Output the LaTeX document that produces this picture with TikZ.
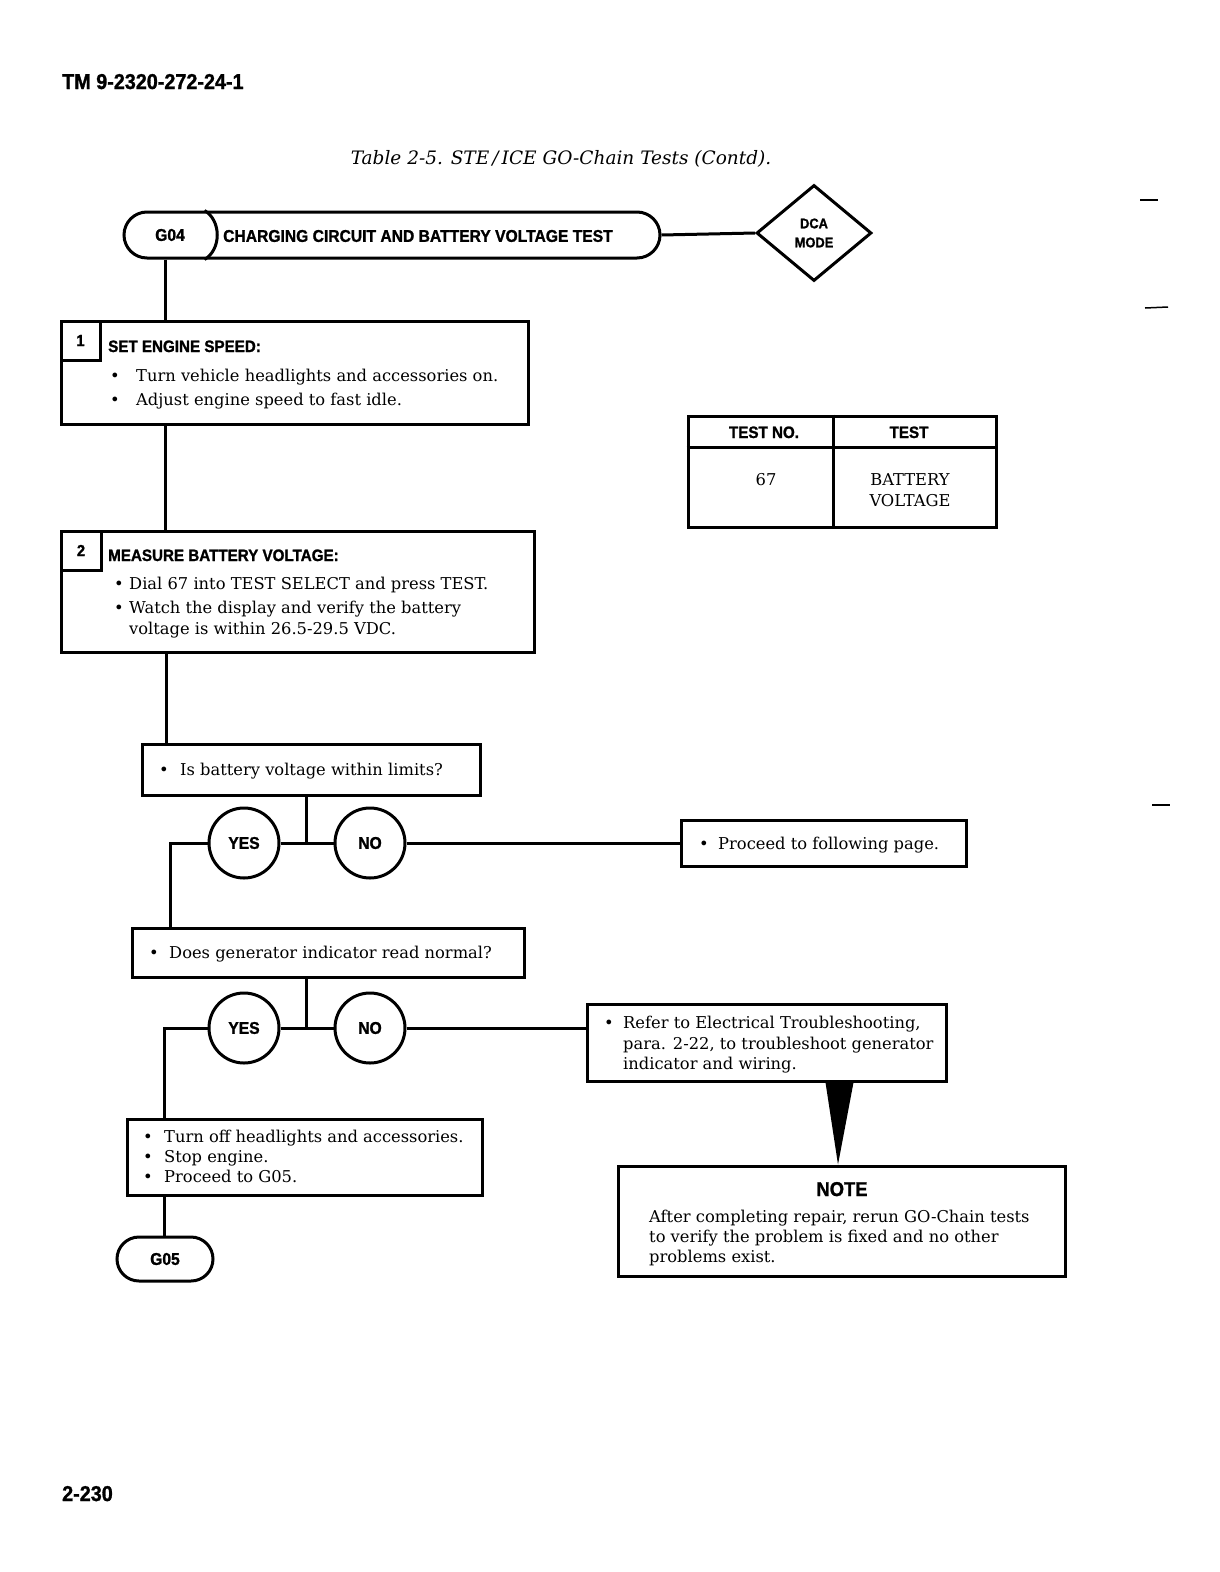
\documentclass[tikz,border=0pt]{standalone}
\usepackage{fontspec}
\setmainfont{DejaVu Serif}
\newfontfamily\hd[FakeStretch=0.92, BoldFeatures={FakeBold=1.3}]{Liberation Sans}
\usetikzlibrary{shapes.geometric,calc}
\begin{document}
\begin{tikzpicture}[x=1pt,y=-1pt,
  lw/.style={line width=3pt},
  box/.style={draw, lw, rectangle, inner sep=0pt},
  txt/.style={anchor=base west, inner sep=0pt, font=\fontsize{16.3}{18}\selectfont},
  hdt/.style={anchor=base west, inner sep=0pt, font=\hd\bfseries\fontsize{16.5}{18}\selectfont},
  yn/.style={draw, lw, circle, minimum size=70pt, inner sep=0pt, font=\hd\bfseries\fontsize{17}{18}\selectfont},
  conn/.style={lw}
]
\useasboundingbox (0,0) rectangle (1220,1572);

% header / footer
\node[anchor=base west, inner sep=0pt, font=\hd\bfseries\fontsize{21.5}{24}\selectfont] (tm) at (62,89) {TM 9-2320-272-24-1};
\node[anchor=base, inner sep=0pt, font=\itshape\fontsize{18.5}{20}\selectfont] (title) at (561,164) {Table 2-5. STE\,/\,ICE GO-Chain Tests (Contd).};
\node[anchor=base west, inner sep=0pt, font=\hd\bfseries\fontsize{21.5}{24}\selectfont] (pg) at (62,1501) {2-230};

% margin marks
\draw[line width=1.5pt] (1140,200) -- (1158,200);
\draw[line width=1.5pt] (1145,308) -- (1168,307);
\draw[line width=1.5pt] (1152,805) -- (1170,805);

% G04 bar
\node[draw, lw, rounded corners=23pt, minimum width=536pt, minimum height=46pt, inner sep=0pt] (g04) at (392,235) {};
\draw[lw] ($(g04.north west)+(82,0)$) .. controls +(17,10) and +(17,-10) .. ($(g04.south west)+(82,0)$);
\node[inner sep=0pt, font=\hd\bfseries\fontsize{17}{18}\selectfont] (g04t) at (170,235) {G04};
\node[hdt, anchor=west, font=\hd\bfseries\fontsize{17}{18}\selectfont] (g04title) at (223,236) {CHARGING CIRCUIT AND BATTERY VOLTAGE TEST};

% DCA diamond
\node[diamond, draw, lw, minimum width=115pt, minimum height=96pt, inner sep=0pt, align=center, font=\hd\bfseries\fontsize{14}{19}\selectfont] (dca) at (814,233) {DCA\\MODE};
\draw[conn] (g04.east) -- (dca.west);

\coordinate (v1) at (165,0);
\coordinate (v1b) at (166,0);

% Step 1
\node[box, minimum width=467pt, minimum height=103pt] (s1) at (294.5,372.5) {};
\node[box, minimum width=39pt, minimum height=39pt, anchor=north west, font=\hd\bfseries\fontsize{16}{18}\selectfont] (c1) at (s1.north west) {1};
\node[hdt] (h1) at (108,352) {SET ENGINE SPEED:};
\node[txt] (b1a) at (110,381) {•};
\node[txt] (t1a) at (136,381) {Turn vehicle headlights and accessories on.};
\node[txt] (b1b) at (110,405) {•};
\node[txt] (t1b) at (136,405) {Adjust engine speed to fast idle.};
\draw[conn] (g04.south -| v1) -- (s1.north -| v1);

% Step 2
\node[box, minimum width=473pt, minimum height=121pt] (s2) at (297.5,591.5) {};
\node[box, minimum width=40pt, minimum height=39pt, anchor=north west, font=\hd\bfseries\fontsize{16}{18}\selectfont] (c2) at (s2.north west) {2};
\node[hdt] (h2) at (108,561) {MEASURE BATTERY VOLTAGE:};
\node[txt] (b2a) at (114,589) {•};
\node[txt] (t2a) at (129,589) {Dial 67 into TEST SELECT and press TEST.};
\node[txt] (b2b) at (114,613) {•};
\node[txt] (t2b) at (129,613) {Watch the display and verify the battery};
\node[txt] (t2c) at (129,634) {voltage is within 26.5-29.5 VDC.};
\draw[conn] (s1.south -| v1) -- (s2.north -| v1);

% Table
\node[box, minimum width=308pt, minimum height=111pt] (tbl) at (842,471.5) {};
\draw[lw] ($(tbl.north west)+(0,33)$) -- ($(tbl.north east)+(0,33)$);
\draw[lw] ($(tbl.north west)+(147,0)$) -- ($(tbl.south west)+(147,0)$);
\node[anchor=base, inner sep=0pt, font=\hd\bfseries\fontsize{16.5}{18}\selectfont] (th1) at (764,438) {TEST NO.};
\node[anchor=base, inner sep=0pt, font=\hd\bfseries\fontsize{16.5}{18}\selectfont] (th2) at (909,438) {TEST};
\node[txt, anchor=base] (td1) at (766,485) {67};
\node[txt, anchor=base] (td2) at (910,485) {BATTERY};
\node[txt, anchor=base] (td3) at (910,506) {VOLTAGE};

% Question 1
\node[box, minimum width=338pt, minimum height=51pt] (q1) at (311,769.5) {};
\node[txt] (bq1) at (159,775) {•};
\node[txt] (tq1) at (180,775) {Is battery voltage within limits?};
\draw[conn] (s2.south -| v1b) -- (q1.north -| v1b);

\node[yn] (y1) at (244,843) {YES};
\node[yn] (n1) at (370,843) {NO};
\coordinate (j1) at (306,843);
\draw[conn] (q1.south -| j1) -- (j1);
\draw[conn] (y1.east) -- (n1.west);

\node[box, minimum width=285pt, minimum height=46pt] (pr) at (823.5,843) {};
\node[txt] (bpr) at (699,849) {•};
\node[txt] (tpr) at (718,849) {Proceed to following page.};
\draw[conn] (n1.east) -- (pr.west);

% Question 2
\coordinate (v2) at (170,0);
\node[box, minimum width=392pt, minimum height=49pt] (q2) at (328,952.5) {};
\node[txt] (bq2) at (149,958) {•};
\node[txt] (tq2) at (169,958) {Does generator indicator read normal?};
\draw[conn] (y1.west) -| (q2.north -| v2);

\node[yn] (y2) at (244,1028) {YES};
\node[yn] (n2) at (370,1028) {NO};
\coordinate (j2) at (306,1028);
\draw[conn] (q2.south -| j2) -- (j2);
\draw[conn] (y2.east) -- (n2.west);

% Refer box
\node[box, minimum width=359pt, minimum height=77pt] (rf) at (766.5,1042.5) {};
\node[txt] (brf) at (604,1028) {•};
\node[txt] (trf1) at (623,1028) {Refer to Electrical Troubleshooting,};
\node[txt] (trf2) at (623,1049) {para. 2-22, to troubleshoot generator};
\node[txt] (trf3) at (623,1069) {indicator and wiring.};
\draw[conn] (n2.east) -- (n2.east -| rf.west);

% Note box
\node[box, minimum width=447pt, minimum height=110pt] (note) at (841.5,1221) {};
\node[anchor=base, inner sep=0pt, font=\hd\bfseries\fontsize{20}{20}\selectfont] (nt) at (842,1196) {NOTE};
\node[txt] (nt1) at (649,1222) {After completing repair, rerun GO-Chain tests};
\node[txt] (nt2) at (649,1242) {to verify the problem is fixed and no other};
\node[txt] (nt3) at (649,1262) {problems exist.};
\fill ($(rf.south west)+(240,0)$) -- ($(rf.south west)+(268,0)$) -- (note.north -| 838,0) -- cycle;

% Box 3
\coordinate (v3) at (164,0);
\node[box, minimum width=355pt, minimum height=76pt] (s3) at (304.5,1157) {};
\node[txt] (b3a) at (143,1142) {•};
\node[txt] (t3a) at (164,1142) {Turn off headlights and accessories.};
\node[txt] (b3b) at (143,1162) {•};
\node[txt] (t3b) at (164,1162) {Stop engine.};
\node[txt] (b3c) at (143,1182) {•};
\node[txt] (t3c) at (164,1182) {Proceed to G05.};
\draw[conn] (y2.west) -| (s3.north -| v3);

% G05
\node[draw, lw, rounded corners=22pt, minimum width=96pt, minimum height=44pt, inner sep=0pt, font=\hd\bfseries\fontsize{17}{18}\selectfont] (g05) at (165,1259) {G05};
\draw[conn] (s3.south -| v3) -- (g05.north -| v3);

\end{tikzpicture}
\end{document}
